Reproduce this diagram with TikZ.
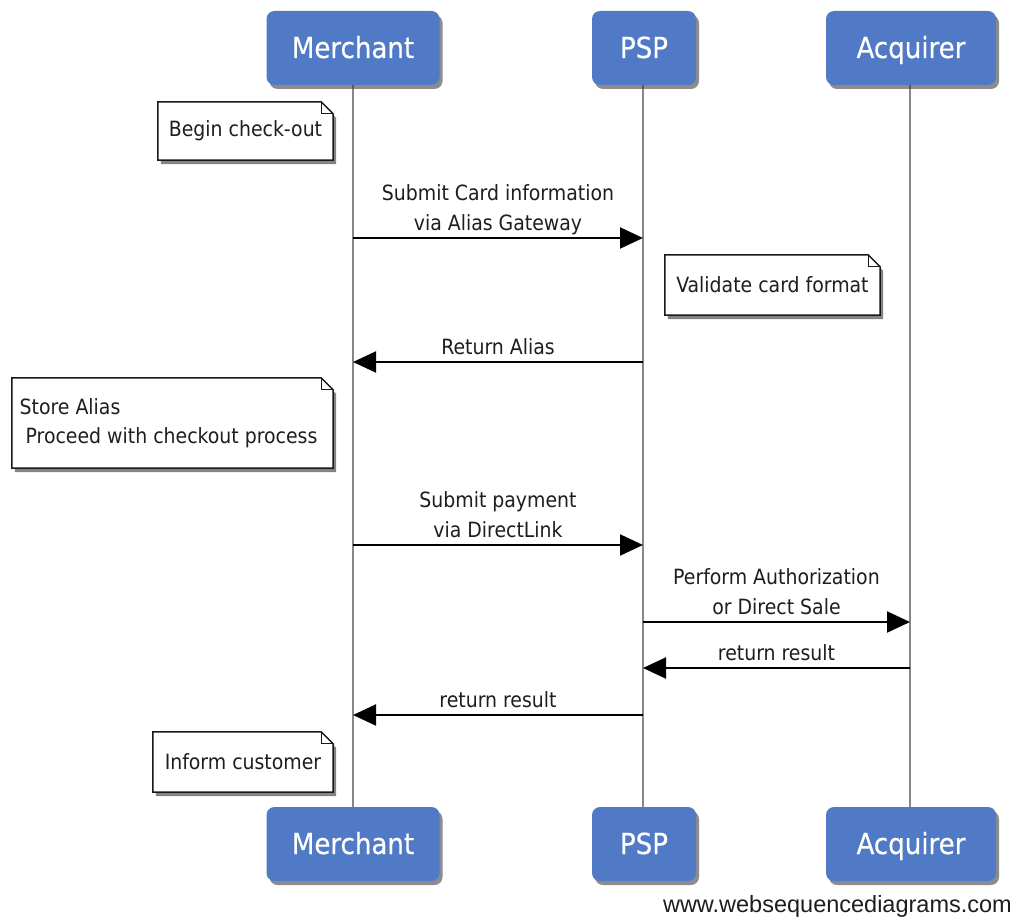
\documentclass[tikz,border=0pt]{standalone}
\usepackage{fontspec}
\setmainfont{DejaVu Sans Condensed}
\newfontfamily\footfont{Liberation Sans}
\newfontfamily\partfont[FakeBold=0.4]{DejaVu Sans Condensed}
\usetikzlibrary{arrows.meta,shadows,backgrounds}
\definecolor{partblue}{RGB}{80,122,198}
\definecolor{txt}{RGB}{30,30,30}
\definecolor{lifegray}{RGB}{135,135,135}
\tikzset{
  part/.style={rounded corners=8pt, fill=partblue, draw=none, text=white,
    minimum height=74pt, inner sep=0pt, text height=26pt, text depth=6pt,
    font=\partfont\fontsize{29}{32}\selectfont,
    drop shadow={shadow xshift=3pt, shadow yshift=-4pt, fill=black!75, opacity=0.6}},
  lifeline/.style={draw=lifegray, line width=2.5pt},
  notetext/.style={font=\fontsize{21}{29}\selectfont, text=txt, align=left,
    inner xsep=10pt, inner ysep=0pt, anchor=center},
  notebox/.style={draw=black!90, line width=1.5pt, fill=white,
    drop shadow={shadow xshift=3pt, shadow yshift=-4pt, fill=black!80, opacity=0.6}},
  notefold/.style={draw=black!90, line width=1pt},
  msg/.style={draw=black, line width=2pt, -{Triangle[length=23pt,width=21pt]}},
  msglabel/.style={font=\fontsize{21}{30}\selectfont, text=txt, align=center,
    anchor=south, inner sep=0pt, text depth=4pt},
}
\newcommand\drawnote[1]{%
  \path[notebox] (#1.north west) -- ([xshift=-12pt]#1.north east)
    -- ([yshift=-12pt]#1.north east) -- (#1.south east) -- (#1.south west) -- cycle;
  \draw[notefold] ([xshift=-12pt]#1.north east) |- ([yshift=-12pt]#1.north east);}
\begin{document}
\begin{tikzpicture}[x=1pt,y=-1pt]
\useasboundingbox (0,0) rectangle (1016,923);
% participants
\node[part, minimum width=173pt] (m1) at (353,48) {Merchant};
\node[part, minimum width=104pt] (p1) at (644,48) {PSP};
\node[part, minimum width=170pt] (a1) at (911,48) {Acquirer};
\node[part, minimum width=173pt] (m2) at (353,844) {Merchant};
\node[part, minimum width=104pt] (p2) at (644,844) {PSP};
\node[part, minimum width=170pt] (a2) at (911,844) {Acquirer};
% note texts
\node[notetext, minimum width=175pt, minimum height=58pt] (n1) at (245.5,131) {Begin check-out};
\node[notetext, minimum width=215pt, minimum height=60pt] (n2) at (772.5,285) {Validate card format};
\node[notetext, inner xsep=7pt, minimum width=321pt, minimum height=90pt] (n3) at (172.5,423) {Store Alias\\\hspace*{6pt}Proceed with checkout process\hspace*{8pt}};
\node[notetext, minimum width=180pt, minimum height=60pt] (n4) at (243,762) {Inform customer};
\begin{scope}[on background layer]
  \fill[white] (0,0) rectangle (1016,923);
  \draw[lifeline] (m1.south -| m1.center) -- (m2.north -| m2.center);
  \draw[lifeline] (p1.south -| 643,0) -- (p2.north -| 643,0);
  \draw[lifeline] (a1.south -| 910,0) -- (a2.north -| 910,0);
  \drawnote{n1}
  \drawnote{n2}
  \drawnote{n3}
  \drawnote{n4}
\end{scope}
% message anchor points on lifelines
\coordinate (mA) at (m1 |- 0,238);  \coordinate (pA) at (643,238);
\coordinate (mB) at (m1 |- 0,362);  \coordinate (pB) at (643,362);
\coordinate (mC) at (m1 |- 0,545);  \coordinate (pC) at (643,545);
\coordinate (pD) at (643,622);      \coordinate (aD) at (910,622);
\coordinate (pE) at (643,668);      \coordinate (aE) at (910,668);
\coordinate (mF) at (m1 |- 0,715);  \coordinate (pF) at (643,715);
\draw[msg] (mA) -- (pA) node[msglabel, pos=0.5, yshift=3pt] (lA) {Submit Card information\\via Alias Gateway};
\draw[msg] (pB) -- (mB) node[msglabel, pos=0.5, yshift=3pt] (lB) {Return Alias};
\draw[msg] (mC) -- (pC) node[msglabel, pos=0.5, yshift=3pt] (lC) {Submit payment\\via DirectLink};
\draw[msg] (pD) -- (aD) node[msglabel, pos=0.5, yshift=3pt] (lD) {Perform Authorization\\or Direct Sale};
\draw[msg] (aE) -- (pE) node[msglabel, pos=0.5, yshift=3pt] (lE) {return result};
\draw[msg] (pF) -- (mF) node[msglabel, pos=0.5, yshift=3pt] (lF) {return result};
% footer
\node[anchor=base east, inner sep=0pt, font=\footfont\fontsize{23.5}{26}\selectfont, text=txt] (foot) at (1012,912) {www.websequencediagrams.com};
\end{tikzpicture}
\end{document}
